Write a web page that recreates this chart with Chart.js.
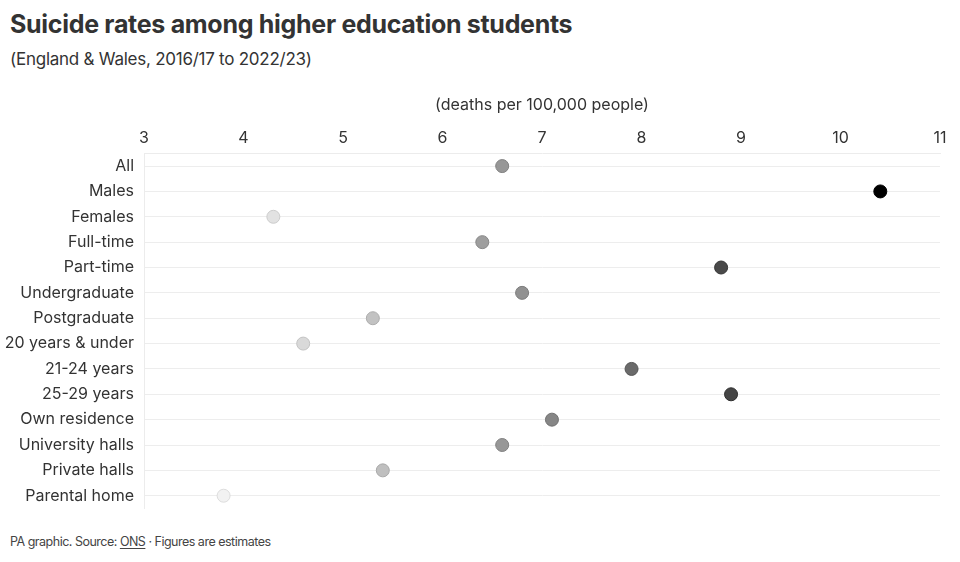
<!DOCTYPE html>
<html>
<head>
<meta charset="utf-8">
<script src="https://cdn.jsdelivr.net/npm/chart.js@4"></script>
<style>
  html, body { margin: 0; padding: 0; background: #fff; }
  body { width: 960px; height: 562px; position: relative; overflow: hidden; font-family: Inter, "Noto Sans", sans-serif; color: #333; }
  #title { position: absolute; left: 10px; top: 9px; font-size: 25px; font-weight: 700; letter-spacing: -0.3px; color: #333; }
  #subtitle { position: absolute; left: 10px; top: 49px; font-size: 17px; color: #333; letter-spacing: -0.25px; }
  #footer { position: absolute; left: 10px; top: 534px; font-size: 12.5px; color: #444; letter-spacing: -0.5px; }
  #footer u { text-underline-offset: 2px; }
  #wrap { position: absolute; left: 0; top: 88px; width: 960px; height: 440px; }
</style>
</head>
<body>
<div id="title">Suicide rates among higher education students</div>
<div id="subtitle">(England &amp; Wales, 2016/17 to 2022/23)</div>
<div id="wrap"><canvas id="dotChart"></canvas></div>
<div id="footer">PA graphic. Source: <u>ONS</u> · Figures are estimates</div>
<script>
const groups = ['All', 'Males', 'Females', 'Full-time', 'Part-time', 'Undergraduate', 'Postgraduate',
    '20 years & under', '21-24 years', '25-29 years', 'Own residence', 'University halls', 'Private halls', 'Parental home'];
const rates = [6.6, 10.4, 4.3, 6.4, 8.8, 6.8, 5.3, 4.6, 7.9, 8.9, 7.1, 6.6, 5.4, 3.8];
const xTicks = [3, 4, 5, 6, 7, 8, 9, 10, 11];

// grey shade follows the rate: near white for lowest, black for highest
const lo = Math.min(...rates), hi = Math.max(...rates);
function grey(v, darken) {
    const t = (v - lo) / (hi - lo);
    const g = Math.max(0, Math.round(242 * Math.pow(1 - t, 0.85)) - darken);
    return `rgb(${g}, ${g}, ${g})`;
}
const fills = rates.map(v => grey(v, 0));
const rims = rates.map(v => grey(v, 22));

const ctx = document.getElementById('dotChart').getContext('2d');
const dotChart = new Chart(ctx, {
    type: 'line',
    data: {
        labels: groups,
        datasets: [{
            data: rates,
            showLine: false,
            pointRadius: 6.5,
            pointHoverRadius: 6.5,
            pointBorderWidth: 1,
            pointBackgroundColor: fills,
            pointBorderColor: rims
        }]
    },
    options: {
        indexAxis: 'y',
        responsive: true, maintainAspectRatio: false,
        animation: { duration: 0 },
        layout: { padding: { top: 4, right: 20, bottom: 0, left: 0 } },
        plugins: { legend: { display: false }, tooltip: { enabled: false } },
        scales: {
            x: {
                type: 'linear', position: 'top', min: 3, max: 11,
                afterBuildTicks: s => { s.ticks = xTicks.map(v => ({ value: v })); },
                grid: { display: false, drawTicks: false },
                border: { display: true, color: '#ececec', width: 1 },
                ticks: { padding: 6, color: '#333', font: { family: 'Inter', size: 16 } },
                title: {
                    display: true, text: '(deaths per 100,000 people)', color: '#333',
                    font: { family: 'Inter', size: 16 }, padding: { top: 4, bottom: 7 }
                }
            },
            y: {
                type: 'category', offset: true,
                afterFit: s => { s.width = 144; },
                grid: { color: '#ededed', drawTicks: false, offset: false },
                border: { display: true, color: '#ececec', width: 1 },
                ticks: { padding: 10, color: '#333', font: { family: 'Inter', size: 16 } }
            }
        }
    }
});
</script>
</body>
</html>
